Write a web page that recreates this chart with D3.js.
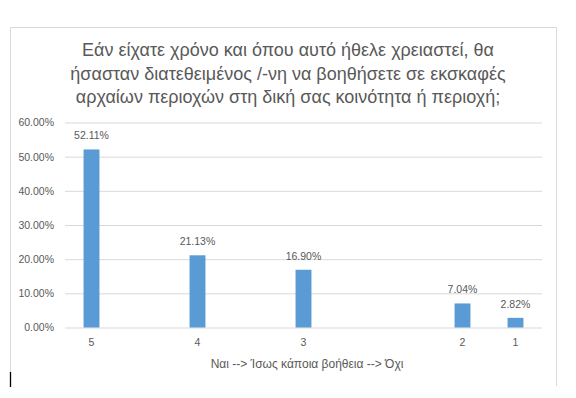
<!DOCTYPE html>
<html>
<head>
<meta charset="utf-8">
<script src="https://cdn.jsdelivr.net/npm/d3@7"></script>
<style>
  body { margin: 0; background: #fff; }
  svg { display: block; font-family: "Liberation Sans", Arial, sans-serif; }
</style>
</head>
<body>
<div id="chart"></div>
<script>
const width = 576;
const height = 398;

// data (empty slots are blank categories on the axis)
const categories = ["5", "", "4", "", "3", "", "", "2", "1"];
const values = [52.11, null, 21.13, null, 16.90, null, null, 7.04, 2.82];
const yTicks = [0, 10, 20, 30, 40, 50, 60];
const titleLines = [
    "Εάν είχατε χρόνο και όπου αυτό ήθελε χρειαστεί, θα",
    "ήσασταν διατεθειμένος /-νη να βοηθήσετε σε εκσκαφές",
    "αρχαίων περιοχών στη δική σας κοινότητα ή περιοχή;"
];
const xTitle = "Ναι --> Ίσως κάποια βοήθεια --> Όχι";

const textColor = "#595959";
const gridColor = "#d9d9d9";
const barColor = "#5b9bd5";

const plot = { left: 65, right: 542, top: 122.5, bottom: 327.5 };

const svg = d3.select("#chart")
    .append("svg")
    .attr("width", width)
    .attr("height", height);

// chart area border (bottom edge is cut off in the picture)
svg.append("path")
    .attr("d", `M10.5,386 V27.5 H556.5 V386`)
    .attr("fill", "none")
    .attr("stroke", gridColor)
    .attr("stroke-width", 1);

// text cursor left in the screenshot
svg.append("line")
    .attr("x1", 10.5).attr("x2", 10.5)
    .attr("y1", 372).attr("y2", 387)
    .attr("stroke", "#000")
    .attr("stroke-width", 1.3);

// title
svg.append("g")
    .selectAll("text")
    .data(titleLines)
    .join("text")
    .attr("x", 288)
    .attr("y", (d, i) => 56 + i * 23.5)
    .attr("text-anchor", "middle")
    .attr("fill", textColor)
    .style("font-size", "18px")
    .text(d => d);

const x = d3.scaleBand()
    .domain(d3.range(categories.length))
    .range([plot.left, plot.right])
    .paddingInner(0.7)
    .paddingOuter(0.35);

const y = d3.scaleLinear()
    .domain([0, 60])
    .range([plot.bottom, plot.top]);

// gridlines + y labels
const yAxis = svg.append("g")
    .attr("transform", `translate(${plot.left},0)`)
    .call(d3.axisLeft(y)
        .tickValues(yTicks)
        .tickSize(-(plot.right - plot.left))
        .tickPadding(11)
        .tickFormat(d => d.toFixed(2) + "%"));
yAxis.select(".domain").remove();
yAxis.selectAll(".tick line").attr("stroke", gridColor);
yAxis.selectAll(".tick text")
    .attr("fill", textColor)
    .style("font-size", "10.5px")
    .style("font-family", "Liberation Sans, Arial, sans-serif");

// x labels
const xAxis = svg.append("g")
    .attr("transform", `translate(0,${plot.bottom})`)
    .call(d3.axisBottom(x)
        .tickSize(0)
        .tickPadding(11)
        .tickFormat(i => categories[i]));
xAxis.select(".domain").remove();
xAxis.selectAll(".tick text")
    .attr("fill", textColor)
    .style("font-size", "10.5px")
    .style("font-family", "Liberation Sans, Arial, sans-serif");

const barData = values.map((v, i) => ({ i, v })).filter(d => d.v != null);

svg.append("g")
    .selectAll("rect")
    .data(barData)
    .join("rect")
    .attr("x", d => x(d.i))
    .attr("y", d => y(d.v))
    .attr("width", x.bandwidth())
    .attr("height", d => y(0) - y(d.v))
    .attr("fill", barColor);

// value labels
svg.append("g")
    .selectAll("text")
    .data(barData)
    .join("text")
    .attr("x", d => x(d.i) + x.bandwidth() / 2)
    .attr("y", d => y(d.v) - 10)
    .attr("text-anchor", "middle")
    .attr("fill", textColor)
    .style("font-size", "10.5px")
    .text(d => d.v.toFixed(2) + "%");

// x axis title
svg.append("text")
    .attr("x", 307)
    .attr("y", 368)
    .attr("text-anchor", "middle")
    .attr("fill", textColor)
    .style("font-size", "12px")
    .text(xTitle);
</script>
</body>
</html>
